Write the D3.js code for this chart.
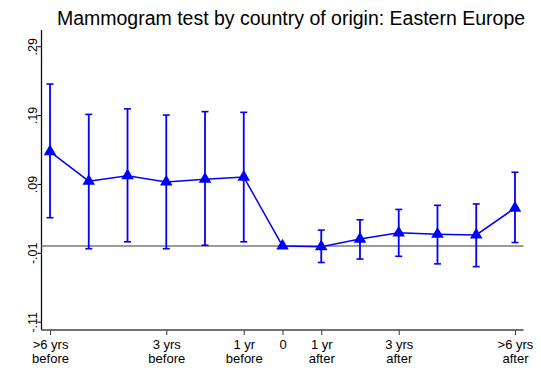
<!DOCTYPE html>
<html>
<head>
<meta charset="utf-8">
<script src="https://cdn.jsdelivr.net/npm/d3@7"></script>
<style>
  html, body { margin: 0; padding: 0; background: #fff; }
  svg { display: block; font-family: "Liberation Sans", Arial, sans-serif; }
</style>
</head>
<body>
<svg id="chart" width="541" height="382"></svg>
<script>
// Event-study estimates: mammogram test, Eastern European origin
const periods = [-6, -5, -4, -3, -2, -1, 0, 1, 2, 3, 4, 5, 6];
const coef    = [0.137, 0.094, 0.102, 0.093, 0.097, 0.100, 0, -0.001, 0.010, 0.019, 0.017, 0.016, 0.055];
const ciLow   = [0.041, -0.004, 0.006, -0.004, 0.001, 0.006, null, -0.024, -0.019, -0.015, -0.026, -0.030, 0.005];
const ciHigh  = [0.235, 0.191, 0.199, 0.190, 0.195, 0.194, null, 0.023, 0.038, 0.053, 0.059, 0.061, 0.107];

const xTickValues = [-6, -3, -1, 0, 1, 3, 6];
const xTickLabels = [">6 yrs|before", "3 yrs|before", "1 yr|before", "0", "1 yr|after", "3 yrs|after", ">6 yrs|after"];
const yTickValues = [0.29, 0.19, 0.09, -0.01, -0.11];
const yTickLabels = [".29", ".19", ".09", "-.01", "-.11"];

const title = "Mammogram test by country of origin: Eastern Europe";

const svg = d3.select("#chart");
const plotLeft = 41.5, plotRight = 523.5, plotTop = 30, plotBottom = 330;

const x = d3.scaleLinear().domain([-6.22, 6.22]).range([plotLeft, plotRight]);
const y = d3.scaleLinear().domain([-0.122, 0.3135]).range([plotBottom, plotTop]);

const blue = "#0000ff";

// title
svg.append("text")
  .attr("x", 291).attr("y", 25)
  .attr("text-anchor", "middle")
  .attr("font-size", 19.5)
  .attr("fill", "#000")
  .text(title);

// y axis
const yAxis = d3.axisLeft(y)
  .tickValues(yTickValues)
  .tickFormat((d, i) => yTickLabels[i])
  .tickSize(4).tickSizeOuter(0);
const gy = svg.append("g").attr("transform", `translate(${plotLeft},0)`).call(yAxis);
gy.select(".domain").attr("stroke", "#111").attr("stroke-width", 1.3)
  .attr("d", `M0,${plotTop}V${plotBottom}`);
gy.selectAll(".tick line").attr("stroke", "#111").attr("stroke-width", 1.1);
gy.selectAll(".tick text")
  .attr("font-size", 12.5).attr("fill", "#000")
  .attr("text-anchor", "middle")
  .attr("transform", "rotate(-90)")
  .attr("x", 0).attr("y", -5).attr("dy", 0);

// x axis
const xAxis = d3.axisBottom(x)
  .tickValues(xTickValues)
  .tickFormat("")
  .tickSize(5).tickSizeOuter(0);
const gx = svg.append("g").attr("transform", `translate(0,${plotBottom})`).call(xAxis);
gx.select(".domain").attr("stroke", "#444").attr("stroke-width", 1.5)
  .attr("d", `M${plotLeft},0H${plotRight}`);
gx.selectAll(".tick line").attr("stroke", "#444").attr("stroke-width", 1.1);
gx.selectAll(".tick").each(function (d, i) {
  const lines = xTickLabels[i].split("|");
  const t = d3.select(this).append("text")
    .attr("text-anchor", "middle")
    .attr("font-size", 13)
    .attr("fill", "#000");
  lines.forEach((s, k) => {
    t.append("tspan").attr("x", 0).attr("y", 19 + k * 14).text(s);
  });
});

// zero reference line
svg.append("line")
  .attr("x1", plotLeft).attr("x2", plotRight)
  .attr("y1", y(0)).attr("y2", y(0))
  .attr("stroke", "#7a7a7a").attr("stroke-width", 1.5);

const rows = periods.map((p, i) => ({ p, c: coef[i], lo: ciLow[i], hi: ciHigh[i] }));

// confidence intervals with caps
const ci = svg.append("g").attr("stroke", blue).attr("fill", "none");
rows.filter(r => r.lo !== null).forEach(r => {
  ci.append("line")
    .attr("x1", x(r.p)).attr("x2", x(r.p))
    .attr("y1", y(r.lo)).attr("y2", y(r.hi))
    .attr("stroke-width", 1.8);
  [r.lo, r.hi].forEach(v => {
    ci.append("line")
      .attr("x1", x(r.p) - 3.5).attr("x2", x(r.p) + 3.5)
      .attr("y1", y(v)).attr("y2", y(v))
      .attr("stroke-width", 1.6);
  });
});

// connecting line
svg.append("path")
  .datum(rows)
  .attr("fill", "none")
  .attr("stroke", blue)
  .attr("stroke-width", 1.5)
  .attr("d", d3.line().x(r => x(r.p)).y(r => y(r.c)));

// triangle markers
svg.append("g").selectAll("path")
  .data(rows)
  .join("path")
  .attr("transform", r => `translate(${x(r.p)},${y(r.c)})`)
  .attr("d", d3.symbol().type(d3.symbolTriangle).size(68))
  .attr("fill", blue);
</script>
</body>
</html>
